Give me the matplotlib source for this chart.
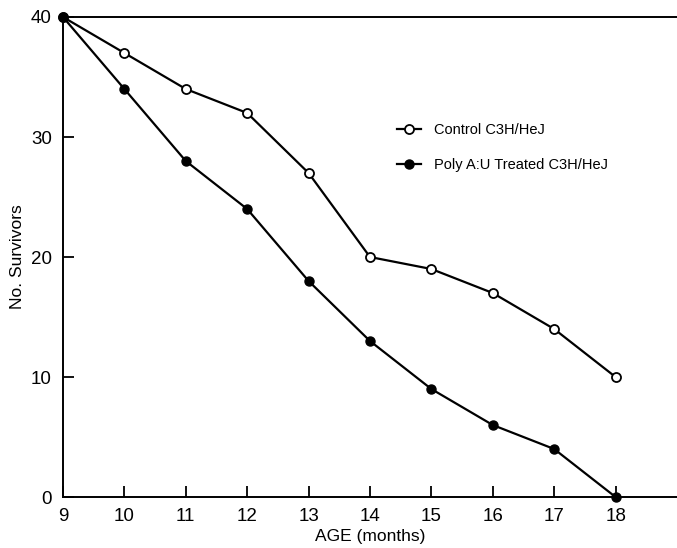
import matplotlib
matplotlib.use('Agg')
import matplotlib.pyplot as plt

plt.rcParams['font.family'] = ['Liberation Sans', 'DejaVu Sans']

months = [9, 10, 11, 12, 13, 14, 15, 16, 17, 18]
control = [40, 37, 34, 32, 27, 20, 19, 17, 14, 10]
treated = [40, 34, 28, 24, 18, 13, 9, 6, 4, 0]
xticks = [9, 10, 11, 12, 13, 14, 15, 16, 17, 18]
yticks = [0, 10, 20, 30, 40]

fig = plt.figure(figsize=(6.77, 5.48), dpi=100)
ax = fig.add_axes([0.093, 0.093, 0.907, 0.876])

ax.plot(months, control, color='black', lw=1.6, marker='o', ms=6.5,
        mfc='white', mec='black', mew=1.3, label='Control C3H/HeJ', clip_on=False)
ax.plot(months, treated, color='black', lw=1.6, marker='o', ms=6.5,
        mfc='black', mec='black', label='Poly A:U Treated C3H/HeJ', clip_on=False)

ax.set_xlim(9, 19)
ax.set_ylim(0, 40)
ax.set_xticks(xticks)
ax.set_yticks(yticks)
ax.tick_params(direction='in', length=8, width=1.3, labelsize=13.5, pad=8)
ax.spines['right'].set_visible(False)
for s in ['left', 'bottom', 'top']:
    ax.spines[s].set_linewidth(1.4)

ax.set_xlabel('AGE (months)', fontsize=12.5, labelpad=3)
ax.set_ylabel('No. Survivors', fontsize=12.5)

leg = ax.legend(loc='upper left', bbox_to_anchor=(0.523, 0.807), frameon=False,
                fontsize=10.5, handlelength=1.6, labelspacing=1.45, handletextpad=0.9)

fig.savefig('out.png', dpi=100)
